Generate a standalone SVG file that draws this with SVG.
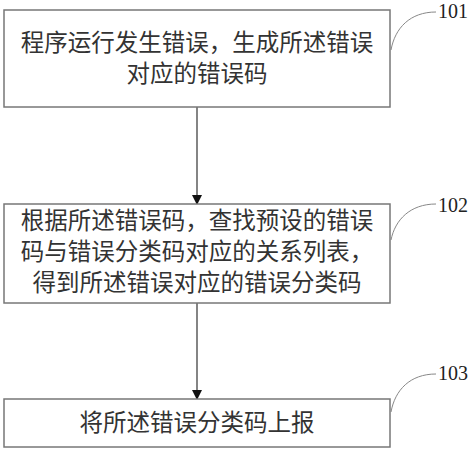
<svg xmlns="http://www.w3.org/2000/svg" width="473" height="450" viewBox="0 0 473 450">
<style>
.box{fill:#fff;stroke:#777;stroke-width:1.5}
.t{font-family:"Noto Sans CJK SC","Noto Sans",sans-serif;font-size:23.5px;fill:#333;text-anchor:middle}
.n{font-family:"Liberation Serif",serif;font-size:20px;fill:#222}
.lead{fill:none;stroke:#888;stroke-width:1}
.c{stroke:#333;stroke-width:1.2;fill:none}
</style>
<defs>
<marker id="ah" markerWidth="10" markerHeight="10" refX="9" refY="5" orient="auto" markerUnits="userSpaceOnUse">
<path d="M0,0 L10,5 L0,10 Z" fill="#111"/>
</marker>
</defs>
<rect width="473" height="450" fill="#fff"/>
<g id="connectors">
<line class="c" x1="197" y1="107" x2="197" y2="204" marker-end="url(#ah)"/>
<line class="c" x1="197" y1="303" x2="197" y2="399" marker-end="url(#ah)"/>
</g>
<g id="n101">
<rect class="box" x="4" y="10" width="386" height="97"/>
<text class="t" x="197" y="51">程序运行发生错误，生成所述错误</text>
<text class="t" x="197" y="82">对应的错误码</text>
<path class="lead" d="M391,50 C395,28 410,12 436,12"/>
<text class="n" x="438" y="18">101</text>
</g>
<g id="n102">
<rect class="box" x="4" y="204" width="386" height="99"/>
<text class="t" x="197" y="229">根据所述错误码，查找预设的错误</text>
<text class="t" x="197" y="260">码与错误分类码对应的关系列表，</text>
<text class="t" x="197" y="291">得到所述错误对应的错误分类码</text>
<path class="lead" d="M391,240 C395,220 410,204 436,204"/>
<text class="n" x="438" y="212">102</text>
</g>
<g id="n103">
<rect class="box" x="4" y="399" width="386" height="48"/>
<text class="t" x="197" y="431">将所述错误分类码上报</text>
<path class="lead" d="M391,412 C395,390 410,374 436,374"/>
<text class="n" x="438" y="380">103</text>
</g>
</svg>
